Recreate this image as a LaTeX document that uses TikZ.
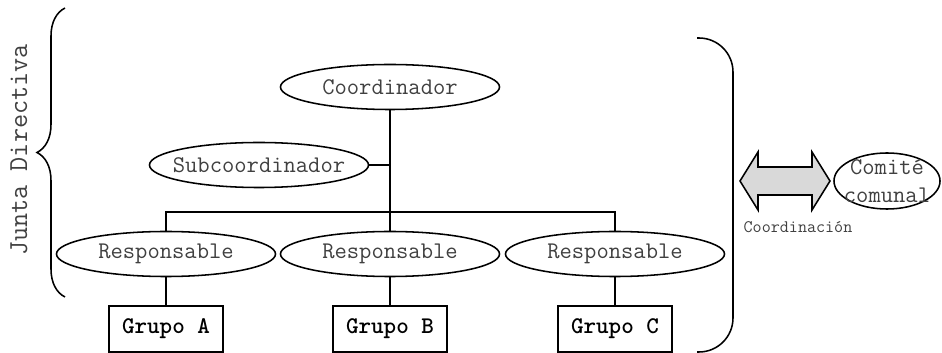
\documentclass[tikz,border=0pt]{standalone}
\usetikzlibrary{shapes.geometric,decorations.pathreplacing,positioning}
\definecolor{txtgray}{gray}{0.25}
\definecolor{arrgray}{gray}{0.85}

\begin{document}
\begin{tikzpicture}[x=0.025cm, y=-0.025cm, line width=1.1pt,
  ell/.style={draw, ellipse, minimum width=54.75mm, minimum height=11.25mm, inner sep=0pt},
  lbl/.style={anchor=center, inner sep=0pt, text=txtgray, font=\ttfamily\fontsize{17}{20}\selectfont},
  grp/.style={draw, rectangle, minimum width=28.5mm, minimum height=11.5mm, inner sep=0pt, font=\ttfamily\bfseries\fontsize{17}{20}\selectfont}]
  \useasboundingbox (0,0) rectangle (942,353);
  % draw ellipses
  \node[ell, label={[lbl]center:Coordinador}]    (coord) at (390,87)  {};
  \node[ell, label={[lbl]center:Subcoordinador}] (sub)   at (259,165) {};
  \node[ell, label={[lbl]center:Responsable}]    (respA) at (166,254) {};
  \node[ell, label={[lbl]center:Responsable}]    (respB) at (390,254) {};
  \node[ell, label={[lbl]center:Responsable}]    (respC) at (615,254) {};
  % draw groups
  \node[grp] (grpA) at (166,329) {Grupo A};
  \node[grp] (grpB) at (390,329) {Grupo B};
  \node[grp] (grpC) at (615,329) {Grupo C};
  % draw lines
  \coordinate (bar) at (390,212);
  \draw (coord.south) -- (respB.north);
  \draw (sub.east) -- (sub.east -| coord.south);
  \draw (respA.north) |- (bar) -| (respC.north);
  \draw (respA.south) -- (grpA.north);
  \draw (respB.south) -- (grpB.north);
  \draw (respC.south) -- (grpC.north);
  % draw braces
  \draw[decorate, decoration={brace, amplitude=7mm}] (65,297) -- (65,8);
  \node[lbl, rotate=90, font=\ttfamily\fontsize{19.5}{22}\selectfont] (junta) at (19,150) {Junta Directiva};
  \draw[rounded corners=8.5mm] (697,38) -- (733,38) -- (733,352) -- (697,352);
  % draw coordination arrow
  \draw[fill=arrgray] (740,181) -- (758,152) -- (758,167) -- (812,167) -- (812,152)
    -- (830,181) -- (812,210) -- (812,195) -- (758,195) -- (758,210) -- cycle;
  \node[lbl, font=\ttfamily\fontsize{12.5}{14}\selectfont] (coordlbl) at (798,227) {Coordinación};
  \node[draw, ellipse, minimum width=26.5mm, minimum height=14mm, inner sep=0pt,
    label={[lbl, align=center]center:Comité\\comunal}] (comite) at (887,181) {};
\end{tikzpicture}
\end{document}
